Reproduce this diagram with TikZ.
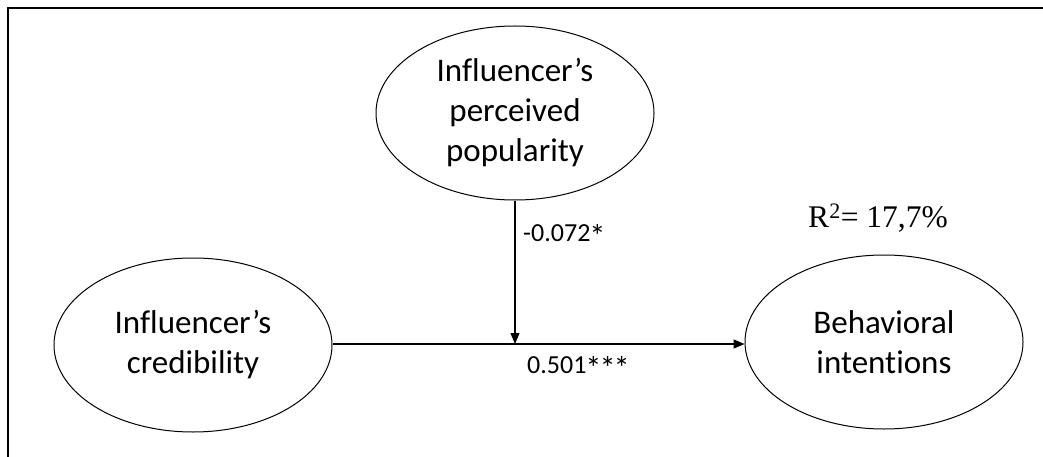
\documentclass[tikz,border=0pt]{standalone}
\usepackage{fontspec}
\usepackage{graphicx}
\setmainfont{Carlito}[Ligatures=NoCommon]
\newfontfamily\timesfont{Liberation Serif}
\usetikzlibrary{shapes.geometric,arrows.meta}
\newcommand\sigstar{\kern-0.04em\raisebox{-0.22em}{\scalebox{1.25}{*}}\kern-0.04em}
\begin{document}
\begin{tikzpicture}[x=1pt,y=-1pt,
  construct/.style={draw, line width=1pt, ellipse, inner sep=0pt, align=center,
    minimum width=278pt, minimum height=174pt,
    font=\fontsize{33}{40}\selectfont},
  path/.style={draw, line width=1.2pt, -{Triangle[length=11pt,width=9pt]}},
  coef/.style={font=\fontsize{26}{30}\selectfont, inner sep=0pt},
  frame/.style={line width=2.5pt}]
\useasboundingbox (0,0) rectangle (1043,457);
\coordinate (fl) at (8,470);
\coordinate (ft) at (8,8);
\coordinate (fr) at (1060,8);
\draw[frame] (fl) -- (ft) -- (fr);
\node[construct] (pop) at (515,113)
  {Influencer’s\\perceived\\popularity};
\node[construct] (cred) at (193,345)
  {Influencer’s\\credibility};
\node[construct] (beh) at (884,342)
  {Behavioral\\intentions};
\draw[path] (cred.east |- 0,344) -- (beh.west |- 0,344);
\coordinate (meet) at (515,344);
\draw[path] (pop.south) -- (meet);
\node[coef, anchor=west] (c1) at (523,236) {-0.072\sigstar};
\node[coef, anchor=west] (c2) at (527,368) {0.501\sigstar\sigstar\sigstar};
\node[font=\timesfont\fontsize{31.5}{36}\selectfont, inner sep=0pt] (r2) at (878,218)
  {R\textsuperscript{2}= 17,7\%};
\end{tikzpicture}
\end{document}
